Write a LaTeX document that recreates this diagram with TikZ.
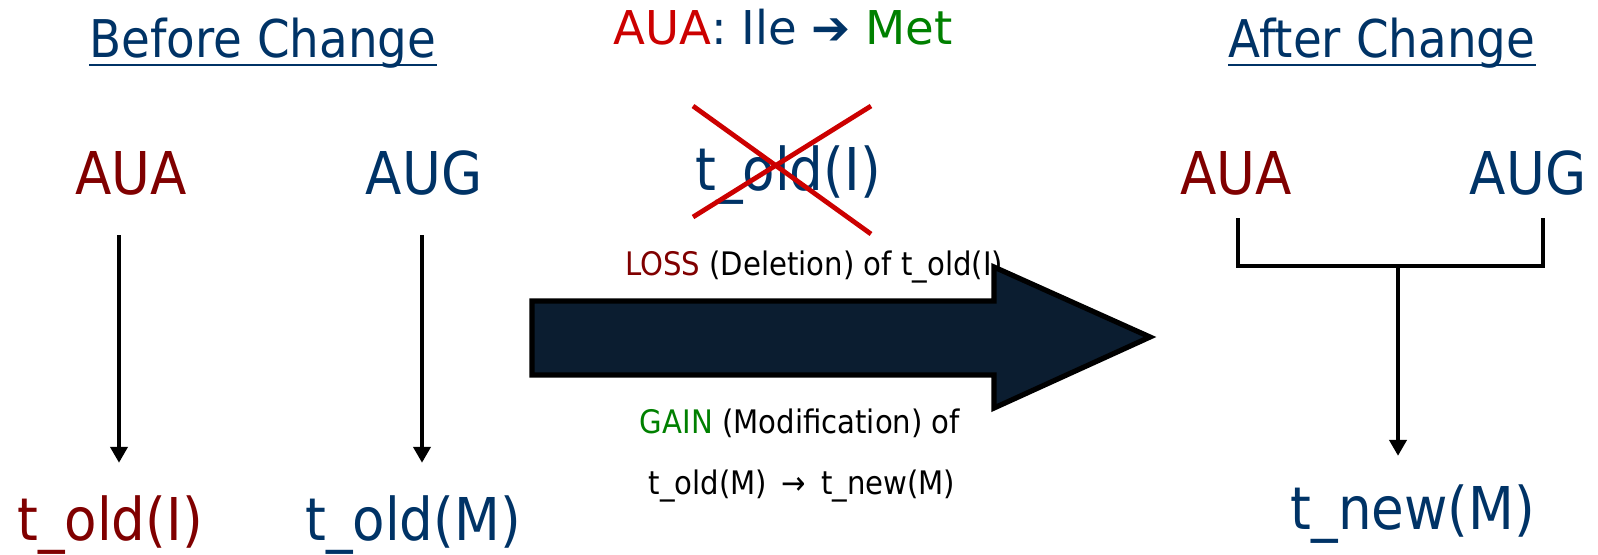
\documentclass[tikz,border=0pt]{standalone}
\usepackage{fontspec}
\setmainfont{DejaVu Sans}[FakeStretch=0.9]
\newfontfamily\widefont{DejaVu Sans}
\usetikzlibrary{arrows.meta}

\definecolor{navyblue}{HTML}{003366}
\definecolor{darkred}{HTML}{800000}
\definecolor{brightred}{HTML}{CC0000}
\definecolor{darkgreen}{HTML}{008000}
\definecolor{arrowfill}{HTML}{0B1D30}

\begin{document}
\begin{tikzpicture}[x=0.5pt, y=-0.5pt,
    every node/.style={inner sep=0pt, anchor=base},
    heading/.style={color=navyblue, font=\fontsize{26}{28}\selectfont},
    codon/.style={font=\fontsize{29.5}{31}\selectfont},
    label/.style={font=\fontsize{16.2}{18}\selectfont},
    conn/.style={line width=2pt, -{Triangle[width=8.5pt, length=8pt]}}]
    \useasboundingbox (0, 0) rectangle (1598, 554);

    % headings
    \node[heading] (before) at (263, 57) {Before Change};
    \node[heading] (after) at (1382, 57) {After Change};
    \draw[navyblue, line width=1.1pt] ([yshift=-4pt]before.base west) -- ([yshift=-4pt]before.base east);
    \draw[navyblue, line width=1.1pt] ([yshift=-4pt]after.base west) -- ([yshift=-4pt]after.base east);
    \node[font=\widefont\fontsize{23.3}{25}\selectfont] (change) at (783, 44)
        {\textcolor{brightred}{AUA}\textcolor{navyblue}{: Ile ➔} \textcolor{darkgreen}{Met}};

    % before
    \node[codon, color=darkred] (aua1) at (131, 194) {AUA};
    \node[codon, color=navyblue] (aug1) at (424, 194) {AUG};
    \node[codon, color=darkred] (toldi) at (110, 540) {t\_old(I)};
    \node[codon, color=navyblue] (toldm) at (413, 540) {t\_old(M)};
    \draw[conn] ([xshift=-6pt, yshift=-20pt]aua1.south) -- ([xshift=4.5pt, yshift=16pt]toldi.north);
    \draw[conn] ([xshift=-1pt, yshift=-20pt]aug1.south) -- ([xshift=4.5pt, yshift=16pt]toldm.north);

    % deleted tRNA
    \node[codon, color=navyblue] (gone) at (788, 190) {t\_old(I)};
    \draw[brightred, line width=2.4pt] (693, 106) -- (871, 234);
    \draw[brightred, line width=2.4pt] (693, 217) -- (871, 106);

    % labels round the big arrow
    \node[label] (loss) at (814, 275) {\textcolor{darkred}{LOSS} (Deletion) of t\_old(I)};
    \node[label] (gain) at (800, 433) {\textcolor{darkgreen}{GAIN} (Modification) of};
    \node[label] (mod) at (802, 494) {t\_old(M) \,→\, t\_new(M)};

    \draw[fill=arrowfill, line width=2.6pt, line join=miter]
        (532, 301) -- (994, 301) -- (994, 267) -- (1150, 337) -- (994, 408) -- (994, 375) -- (532, 375) -- cycle;

    % after
    \node[codon, color=darkred] (aua2) at (1236, 194) {AUA};
    \node[codon, color=navyblue] (aug2) at (1528, 194) {AUG};
    \node[codon, color=navyblue] (tnew) at (1413, 529) {t\_new(M)};
    \coordinate (join) at (1398, 266);
    \draw[line width=2.2pt] (1238, 218) -- (1238, 266) -- (1543, 266) -- (1543, 218);
    \draw[conn] (join) -- ([xshift=-7.5pt, yshift=14pt]tnew.north);
\end{tikzpicture}
\end{document}
